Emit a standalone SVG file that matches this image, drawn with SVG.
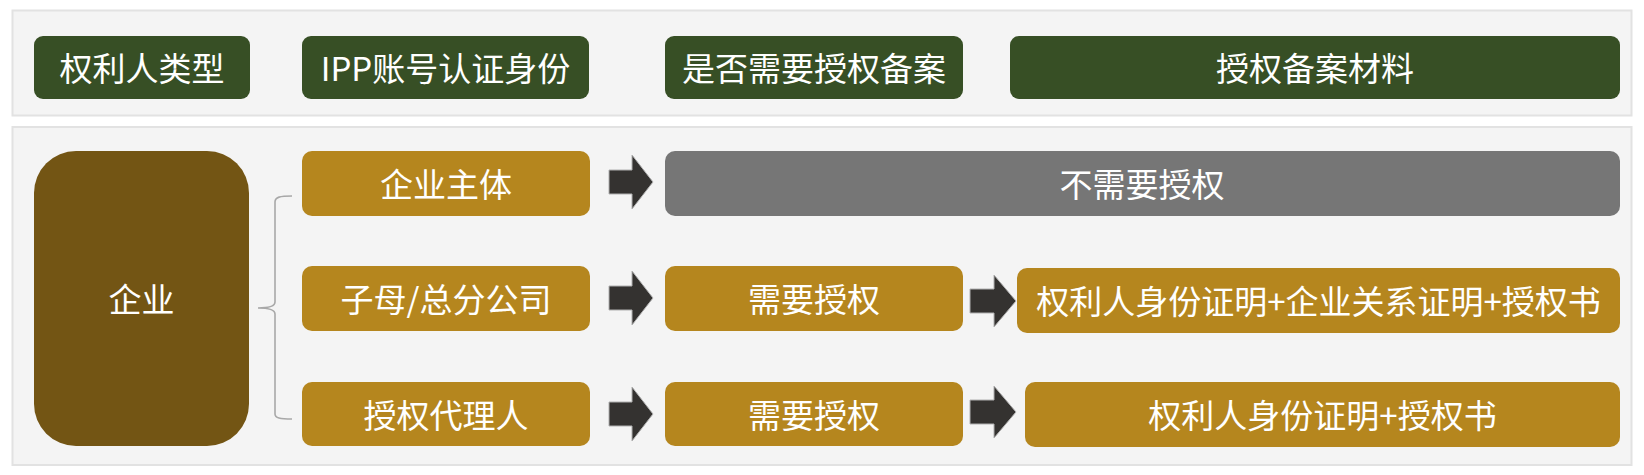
<svg xmlns="http://www.w3.org/2000/svg" width="1644" height="475" viewBox="0 0 1644 475">
<defs>
<style>
.panel{fill:#f4f4f4;stroke:#e2e2e2;stroke-width:2}
.hdr{fill:#374f25}
.gold{fill:#b5861e}
.brown{fill:#735514}
.gray{fill:#767676}
.arrow{fill:#343230;stroke:#b0b0b0;stroke-width:1}
.brace{fill:none;stroke:#a8a8a8;stroke-width:1.6}
text{font-family:"Noto Sans CJK SC","Noto Sans",sans-serif;fill:#ffffff;text-anchor:middle;dominant-baseline:central}
.t33{font-size:33px}
</style>
</defs>
<rect x="0" y="0" width="1644" height="475" fill="#ffffff"/>
<rect class="panel" x="12.5" y="10.5" width="1619" height="105"/>
<rect class="panel" x="12.5" y="127" width="1619" height="338"/>

<g id="header-type"><rect class="hdr" x="34" y="36" width="216" height="63" rx="9"/><text class="t33" x="142" y="67">权利人类型</text></g>
<g id="header-ipp"><rect class="hdr" x="302" y="36" width="287" height="63" rx="9"/><text class="t33" x="445.5" y="67">IPP账号认证身份</text></g>
<g id="header-need"><rect class="hdr" x="665" y="36" width="298" height="63" rx="9"/><text class="t33" x="814" y="67">是否需要授权备案</text></g>
<g id="header-material"><rect class="hdr" x="1010" y="36" width="610" height="63" rx="9"/><text class="t33" x="1315" y="67">授权备案材料</text></g>

<g id="enterprise"><rect class="brown" x="34" y="151" width="215" height="295" rx="42"/><text class="t33" x="141.5" y="298">企业</text></g>

<g id="row1-subject"><rect class="gold" x="302" y="151" width="288" height="65" rx="10"/><text class="t33" x="446" y="183">企业主体</text></g>
<g id="row1-noauth"><rect class="gray" x="665" y="151" width="955" height="65" rx="10"/><text class="t33" x="1142" y="183">不需要授权</text></g>

<g id="row2-subject"><rect class="gold" x="302" y="266" width="288" height="65" rx="10"/><text class="t33" x="446" y="298">子母/总分公司</text></g>
<g id="row2-auth"><rect class="gold" x="665" y="266" width="298" height="65" rx="10"/><text class="t33" x="814" y="298">需要授权</text></g>
<g id="row2-material"><rect class="gold" x="1017" y="268" width="603" height="65" rx="10"/><text class="t33" x="1318.5" y="300">权利人身份证明+企业关系证明+授权书</text></g>

<g id="row3-subject"><rect class="gold" x="302" y="382" width="288" height="64" rx="10"/><text class="t33" x="446" y="414">授权代理人</text></g>
<g id="row3-auth"><rect class="gold" x="665" y="382" width="298" height="64" rx="10"/><text class="t33" x="814" y="414">需要授权</text></g>
<g id="row3-material"><rect class="gold" x="1025" y="382" width="595" height="65" rx="10"/><text class="t33" x="1322.5" y="414">权利人身份证明+授权书</text></g>

<g id="connectors">
<path class="brace" d="M292,196 C280,196 275,197 275,202 L275,302 C275,306 268,308 258,308 C268,308 275,310 275,314 L275,414 C275,418 280,419 292,419"/>
<polygon class="arrow" points="609,170 632,170 632,155 653,182 632,209 632,194 609,194"/>
<polygon class="arrow" points="609,286 632,286 632,271 653,298 632,325 632,310 609,310"/>
<polygon class="arrow" points="609,402 632,402 632,387 653,414 632,441 632,426 609,426"/>
<polygon class="arrow" points="970,289 994,289 994,275 1016,301 994,327 994,313 970,313"/>
<polygon class="arrow" points="970,400 994,400 994,386 1016,412 994,438 994,424 970,424"/>
</g>
</svg>
